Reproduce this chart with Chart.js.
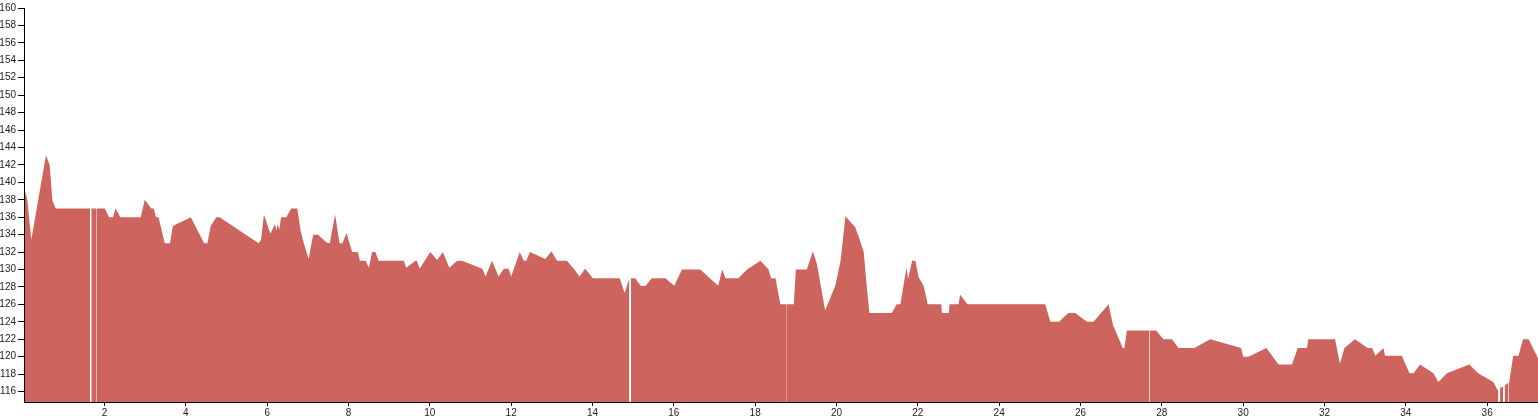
<!DOCTYPE html>
<html>
<head>
<meta charset="utf-8">
<script src="https://cdn.jsdelivr.net/npm/chart.js@4"></script>
<style>
  html, body { margin: 0; padding: 0; background: #fff; }
  #wrap { width: 1538px; height: 420px; }
</style>
</head>
<body>
<div id="wrap"><canvas id="area-chart" width="1538" height="420"></canvas></div>
<script>
// distance along the route and value at each sample (null = break in the area)
var xs = [
  0.04, 0.1, 0.2, 0.56, 0.65, 0.72, 0.8, 1.645, 1.66, 1.675, 1.808, 1.81, 1.812, 2.01,
  2.11, 2.21, 2.27, 2.39, 2.89, 2.99, 3.15, 3.21, 3.27, 3.33, 3.48, 3.61, 3.68, 4.12,
  4.45, 4.53, 4.61, 4.75, 4.83, 5.79, 5.85, 5.92, 6.0, 6.08, 6.19, 6.23, 6.26, 6.3,
  6.34, 6.47, 6.59, 6.74, 6.82, 6.9, 7.02, 7.13, 7.25, 7.46, 7.54, 7.67, 7.78, 7.85,
  7.95, 8.09, 8.23, 8.28, 8.42, 8.5, 8.58, 8.66, 8.74, 9.36, 9.42, 9.65, 9.68, 9.75,
  10.01, 10.18, 10.32, 10.48, 10.67, 10.79, 11.29, 11.37, 11.53, 11.69, 11.82, 11.94, 12.0,
  12.21, 12.31, 12.37, 12.46, 12.84, 12.99, 13.13, 13.37, 13.54, 13.68, 13.82, 14.01,
  14.67, 14.79, 14.905, 14.925, 14.945, 15.05, 15.19, 15.3, 15.46, 15.79, 16.01, 16.2,
  16.65, 17.09, 17.19, 17.27, 17.59, 17.8, 18.13, 18.33, 18.39, 18.5, 18.62, 18.778,
  18.78, 18.782, 18.95, 19.0, 19.27, 19.42, 19.52, 19.72, 19.97, 20.1, 20.22, 20.46,
  20.58, 20.67, 20.73, 20.81, 21.36, 21.48, 21.57, 21.72, 21.76, 21.86, 21.94, 22.02,
  22.14, 22.22, 22.24, 22.58, 22.59, 22.76, 22.78, 23.0, 23.04, 23.22, 25.13, 25.26,
  25.47, 25.7, 25.87, 26.16, 26.32, 26.69, 26.8, 27.04, 27.08, 27.14, 27.698, 27.7,
  27.702, 27.86, 28.04, 28.25, 28.41, 28.8, 29.19, 29.95, 30.0, 30.13, 30.57, 30.87,
  31.2, 31.34, 31.57, 31.6, 32.26, 32.38, 32.49, 32.75, 33.06, 33.17, 33.25, 33.45,
  33.49, 33.9, 34.09, 34.19, 34.35, 34.68, 34.8, 35.01, 35.56, 35.78, 36.15, 36.25,
  36.275, 36.295, 36.317, 36.39, 36.41, 36.43, 36.523, 36.525, 36.527, 36.54, 36.64,
  36.77, 36.88, 37.02, 37.22, 37.25
];
var ys = [
  139, 138.1, 133.4, 143.1, 142, 137.9, 137, 137, null, 137, 137, null, 137, 137,
  136, 136, 137, 136, 136, 138, 137, 137, 136, 136, 133, 133, 135, 136,
  133, 133, 135, 136, 136, 133, 133.4, 136.3, 135.2, 134.1, 135.2, 134.5, 135.2, 134.6,
  136, 136, 137, 137, 134.5, 133, 131.2, 134, 134, 133.1, 133, 136.3, 133, 133,
  134.2, 132, 132, 131, 131, 130.2, 132, 132, 131, 131, 130.2, 131, 131, 130.1,
  132, 131.1, 132, 130.2, 131, 131, 130.1, 129.2, 131, 129.2, 130.1, 130.1, 129.2,
  132, 131, 131, 132, 131.2, 132.1, 131, 131, 130.1, 129.2, 130.1, 129,
  129, 127.3, 129, null, 129, 129, 128.1, 128.1, 129, 129, 128.15, 130,
  130, 128.15, 130, 129, 129, 130, 131, 130, 129, 129, 126, 126,
  null, 126, 126, 130, 130, 132.1, 130.6, 125.3, 128.15, 131, 136.1, 134.85,
  133.3, 132, 128.7, 125, 125, 126, 126, 130.2, 128.9, 131, 131, 129.1,
  128.15, 126.6, 126, 126, 125, 125, 126, 126, 127.1, 126, 126, 124,
  124, 125, 125, 124, 124, 126, 123.6, 121, 121, 123, 123, null,
  123, 123, 122, 122, 121, 121, 122, 121, 120, 120, 121, 119.1,
  119.1, 121, 121, 122, 122, 119.2, 121, 122, 121, 121, 120.1, 121,
  120.1, 120.1, 118.1, 118.1, 119.1, 118.1, 117.1, 118.1, 119.1, 118.1, 117.1, 116.2,
  116.3, null, 116.4, 116.6, null, 116.7, 117, null, 117, 117, 120.1,
  120.1, 122, 122, 120.1, 119.8
];
var xTicks = [2, 4, 6, 8, 10, 12, 14, 16, 18, 20, 22, 24, 26, 28, 30, 32, 34, 36];
var yTicks = [116, 118, 120, 122, 124, 126, 128, 130, 132, 134, 136, 138, 140, 142,
  144, 146, 148, 150, 152, 154, 156, 158, 160];

var points = xs.map(function (x, i) { return { x: x, y: ys[i] }; });

var tickFont = { family: "'Liberation Sans', Arial, sans-serif", size: 10 };

var config = {
  type: "line",
  data: {
    datasets: [
      {
        label: "Profile",
        data: points,
        fill: "start",
        backgroundColor: "rgb(205, 101, 94)",
        borderColor: "rgba(0,0,0,0)",
        borderWidth: 0,
        pointRadius: 0,
        tension: 0,
        spanGaps: false,
      },
    ],
  },
  options: {
    responsive: false,
    animation: false,
    devicePixelRatio: 1,
    layout: { padding: { top: 7.6, right: 0, left: 0, bottom: 0 } },
    plugins: { legend: { display: false }, tooltip: { enabled: false } },
    scales: {
      x: {
        type: "linear",
        min: 0.02,
        max: 37.25,
        border: { display: true, color: "#000", width: 1 },
        grid: { drawOnChartArea: false, drawTicks: true, tickLength: 4, color: "#000" },
        ticks: { font: tickFont, color: "#222", padding: 1, maxRotation: 0, autoSkip: false },
        afterBuildTicks: function (s) { s.ticks = xTicks.map(function (v) { return { value: v }; }); },
        afterFit: function (s) { s.height = 18; },
      },
      y: {
        type: "linear",
        min: 114.8,
        max: 160,
        border: { display: true, color: "#000", width: 1 },
        grid: { drawOnChartArea: false, drawTicks: true, tickLength: 6, color: "#000" },
        ticks: { font: tickFont, color: "#222", padding: 2, autoSkip: false },
        afterBuildTicks: function (s) { s.ticks = yTicks.map(function (v) { return { value: v }; }); },
        afterFit: function (s) { s.width = 24; },
      },
    },
  },
};

var ctx = document.getElementById("area-chart").getContext("2d");
window.areaChart = new Chart(ctx, config);
</script>
</body>
</html>
